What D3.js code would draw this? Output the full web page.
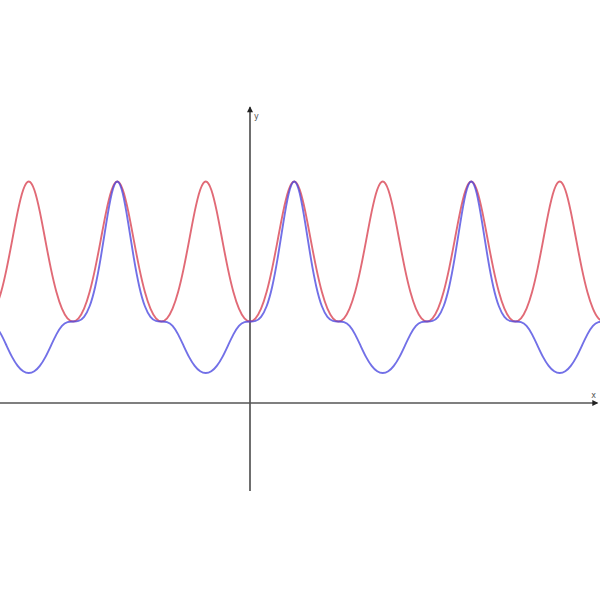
<!DOCTYPE html>
<html>
<head>
<meta charset="utf-8">
<script src="https://cdn.jsdelivr.net/npm/d3@7"></script>
<style>
  html, body { margin: 0; padding: 0; background: #fff; }
  svg { display: block; }
</style>
</head>
<body>
<svg id="chart" width="600" height="600"></svg>
<script>
// Sample grid: k * PI/16 for k = -46 .. 64
const kStart = -46, kEnd = 64;
// Red curve values
const redValues = [
  1.158,1.362,1.649,1.996,2.348,2.617,2.718,2.617,2.348,1.996,1.649,1.362,1.158,1.039,
  1.000,1.039,1.158,1.362,1.649,1.996,2.348,2.617,2.718,2.617,2.348,1.996,1.649,1.362,1.158,1.039,
  1.000,1.039,1.158,1.362,1.649,1.996,2.348,2.617,2.718,2.617,2.348,1.996,1.649,1.362,1.158,1.039,
  1.000,1.039,1.158,1.362,1.649,1.996,2.348,2.617,2.718,2.617,2.348,1.996,1.649,1.362,1.158,1.039,
  1.000,1.039,1.158,1.362,1.649,1.996,2.348,2.617,2.718,2.617,2.348,1.996,1.649,1.362,1.158,1.039,
  1.000,1.039,1.158,1.362,1.649,1.996,2.348,2.617,2.718,2.617,2.348,1.996,1.649,1.362,1.158,1.039,
  1.000,1.039,1.158,1.362,1.649,1.996,2.348,2.617,2.718,2.617,2.348,1.996,1.649,1.362,1.158,1.039,
  1.000
];
// Blue curve values
const blueValues = [
  0.946,0.842,0.702,0.563,0.455,0.389,0.368,0.389,0.455,0.563,0.702,0.842,0.946,0.993,
  1.000,1.007,1.058,1.187,1.424,1.777,2.200,2.569,2.718,2.569,2.200,1.777,1.424,1.187,1.058,1.007,
  1.000,0.993,0.946,0.842,0.702,0.563,0.455,0.389,0.368,0.389,0.455,0.563,0.702,0.842,0.946,0.993,
  1.000,1.007,1.058,1.187,1.424,1.777,2.200,2.569,2.718,2.569,2.200,1.777,1.424,1.187,1.058,1.007,
  1.000,0.993,0.946,0.842,0.702,0.563,0.455,0.389,0.368,0.389,0.455,0.563,0.702,0.842,0.946,0.993,
  1.000,1.007,1.058,1.187,1.424,1.777,2.200,2.569,2.718,2.569,2.200,1.777,1.424,1.187,1.058,1.007,
  1.000,0.993,0.946,0.842,0.702,0.563,0.455,0.389,0.368,0.389,0.455,0.563,0.702,0.842,0.946,0.993,
  1.000
];
const xDomain = [-8.875, 12.425];
const yDomain = [4.945, -2.417];
const yAxisExtent = [3.63, -1.08];
const xAxisExtent = [-8.875, 12.33];
const axisLabels = ["x", "y"];

const xs = d3.range(kStart, kEnd + 1).map(k => k * Math.PI / 16);

const svg = d3.select("#chart");
const x = d3.scaleLinear().domain(xDomain).range([0, 600]);
const y = d3.scaleLinear().domain(yDomain).range([0, 600]);

// axes
const axisColor = "#555";
svg.append("line")
  .attr("x1", x(xAxisExtent[0])).attr("x2", x(xAxisExtent[1]))
  .attr("y1", y(0)).attr("y2", y(0))
  .attr("stroke", axisColor).attr("stroke-width", 1.7);
svg.append("line")
  .attr("x1", x(0)).attr("x2", x(0))
  .attr("y1", y(yAxisExtent[0])).attr("y2", y(yAxisExtent[1]))
  .attr("stroke", axisColor).attr("stroke-width", 1.7);
// arrowheads
const xe = x(xAxisExtent[1]), y0 = y(0);
svg.append("path")
  .attr("d", `M${xe - 5},${y0 - 3} L${xe + 1},${y0} L${xe - 5},${y0 + 3} Z`)
  .attr("fill", "#222");
const x0 = x(0), ye = y(yAxisExtent[0]);
svg.append("path")
  .attr("d", `M${x0 - 3},${ye + 5} L${x0},${ye - 1} L${x0 + 3},${ye + 5} Z`)
  .attr("fill", "#222");
svg.append("text").attr("x", xe - 6).attr("y", y0 - 5)
  .attr("font-family", "DejaVu Sans, sans-serif").attr("font-size", 8)
  .attr("fill", "#555").text(axisLabels[0]);
svg.append("text").attr("x", x0 + 4).attr("y", ye + 12)
  .attr("font-family", "DejaVu Sans, sans-serif").attr("font-size", 8)
  .attr("fill", "#555").text(axisLabels[1]);

const line = d3.line().x(d => x(d[0])).y(d => y(d[1])).curve(d3.curveNatural);

svg.append("path")
  .datum(xs.map((v, i) => [v, redValues[i]]))
  .attr("d", line)
  .attr("fill", "none")
  .attr("stroke", "#d9404f")
  .attr("stroke-opacity", 0.78)
  .attr("stroke-width", 1.9);

svg.append("path")
  .datum(xs.map((v, i) => [v, blueValues[i]]))
  .attr("d", line)
  .attr("fill", "none")
  .attr("stroke", "#4a48e0")
  .attr("stroke-opacity", 0.78)
  .attr("stroke-width", 1.9);
</script>
</body>
</html>
